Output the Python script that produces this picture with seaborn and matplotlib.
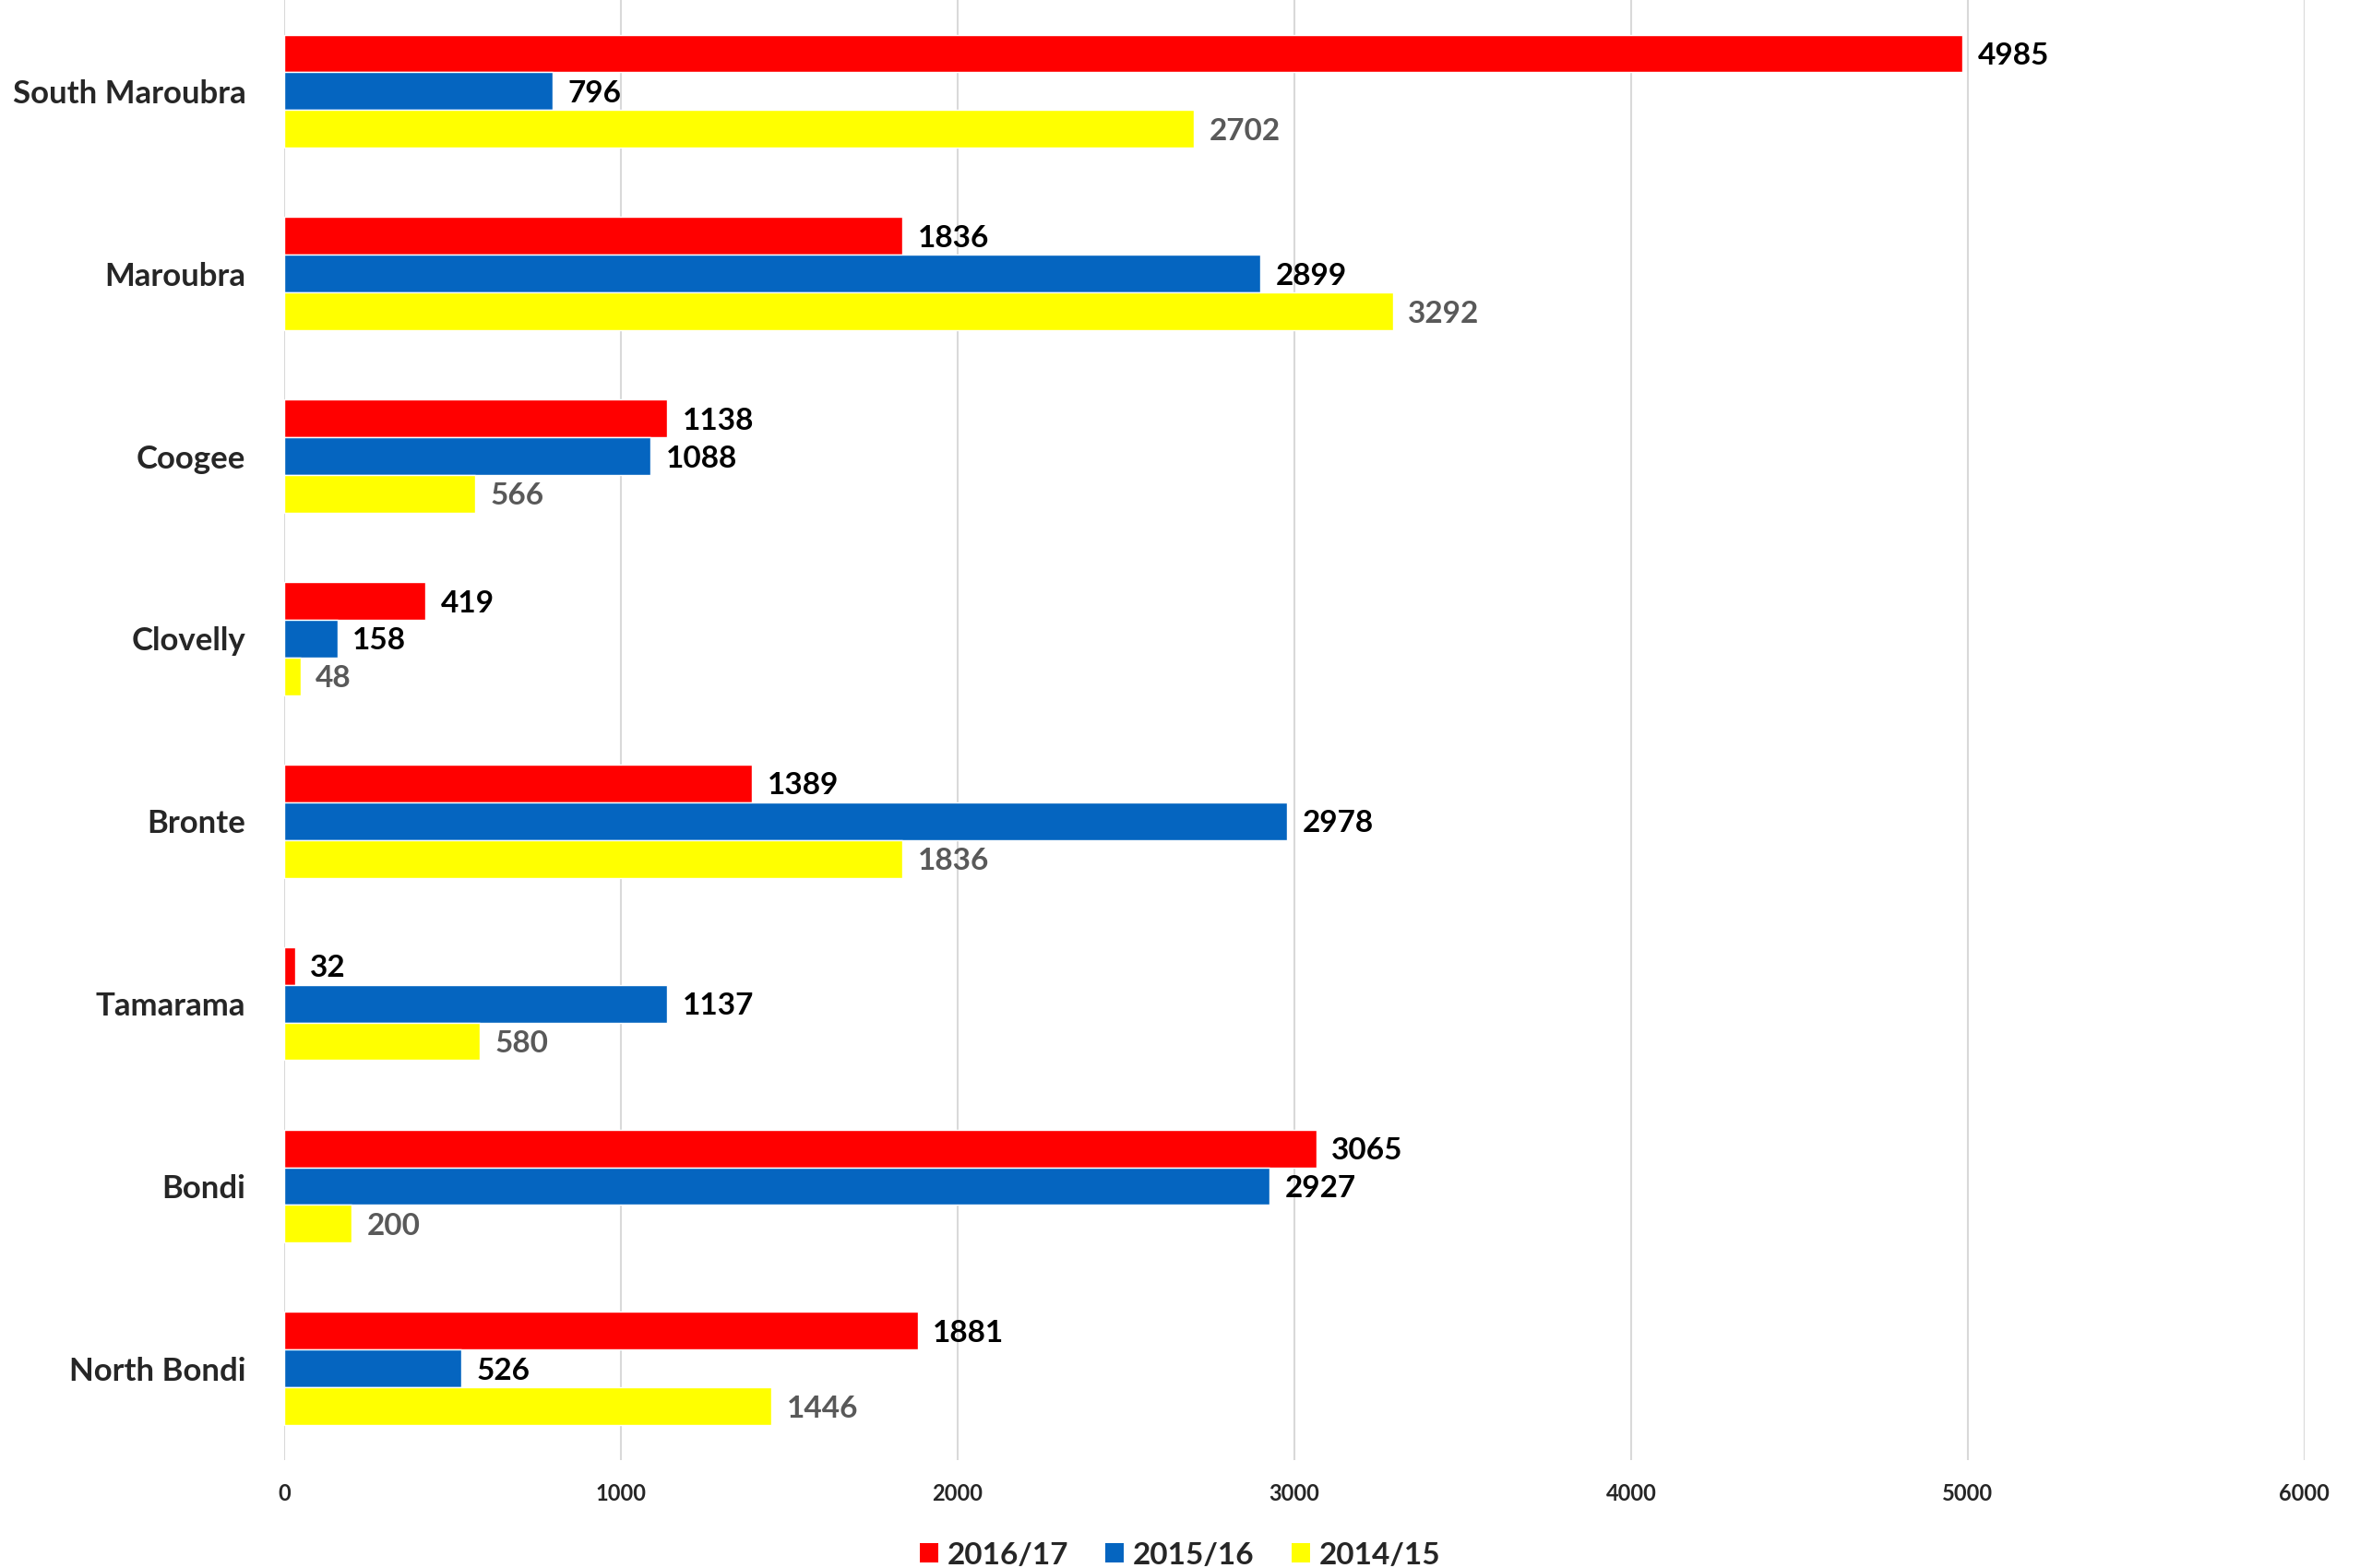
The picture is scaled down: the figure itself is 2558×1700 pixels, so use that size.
import matplotlib
matplotlib.use("Agg")
import matplotlib.pyplot as plt
import seaborn as sns
import pandas as pd
from matplotlib.patches import Patch

categories = ["South Maroubra", "Maroubra", "Coogee", "Clovelly", "Bronte",
              "Tamarama", "Bondi", "North Bondi"]
series_names = ["2016/17", "2015/16", "2014/15"]
v_2016_17 = [4985, 1836, 1138, 419, 1389, 32, 3065, 1881]
v_2015_16 = [796, 2899, 1088, 158, 2978, 1137, 2927, 526]
v_2014_15 = [2702, 3292, 566, 48, 1836, 580, 200, 1446]
x_ticks = [0, 1000, 2000, 3000, 4000, 5000, 6000]

colors = ["#FF0000", "#0565C0", "#FFFF00"]
label_colors = ["#000000", "#000000", "#595959"]

rows = []
for name, vals in zip(series_names, [v_2016_17, v_2015_16, v_2014_15]):
    for c, v in zip(categories, vals):
        rows.append({"beach": c, "season": name, "value": v})
df = pd.DataFrame(rows)

sns.set_style("white")
plt.rcParams["font.family"] = ["Lato", "DejaVu Sans"]
plt.rcParams["font.weight"] = "bold"

fig = plt.figure(figsize=(25.58, 17), dpi=100)
ax = fig.add_axes([0.1204, 0.069, 0.8561, 0.931])

sns.barplot(data=df, y="beach", x="value", hue="season", order=categories,
            hue_order=series_names, palette=colors, orient="h", width=0.62,
            saturation=1, ax=ax, legend=False, errorbar=None)

for cont, lc in zip(ax.containers, label_colors):
    texts = ax.bar_label(cont, fmt="%d", padding=12, fontsize=24,
                         fontweight="bold", color=lc)
    for t in texts:
        t.set_va("center_baseline")

ax.set_xlim(0, 6000)
ax.set_xticks(x_ticks)
ax.set_xticklabels([str(t) for t in x_ticks], fontsize=17, fontweight="bold")
ax.set_xlabel("")
ax.set_ylabel("")
ax.tick_params(axis="y", labelsize=25, length=0, pad=30)
ax.tick_params(axis="x", length=0, pad=18)
for lbl in ax.get_yticklabels():
    lbl.set_fontweight("bold")
ax.grid(axis="x", color="#D9D9D9", linewidth=1.5)
ax.set_axisbelow(True)
for s in ax.spines.values():
    s.set_visible(False)

handles = [Patch(facecolor=c, edgecolor="none", label=n)
           for c, n in zip(colors, series_names)]
fig.legend(handles=handles, loc="lower center", ncol=3, frameon=False,
           bbox_to_anchor=(0.5, -0.018), handlelength=0.6,
           handleheight=0.6, handletextpad=0.3, columnspacing=1.2,
           prop={"weight": "bold", "size": 24})

fig.savefig("out.png", dpi=100)
